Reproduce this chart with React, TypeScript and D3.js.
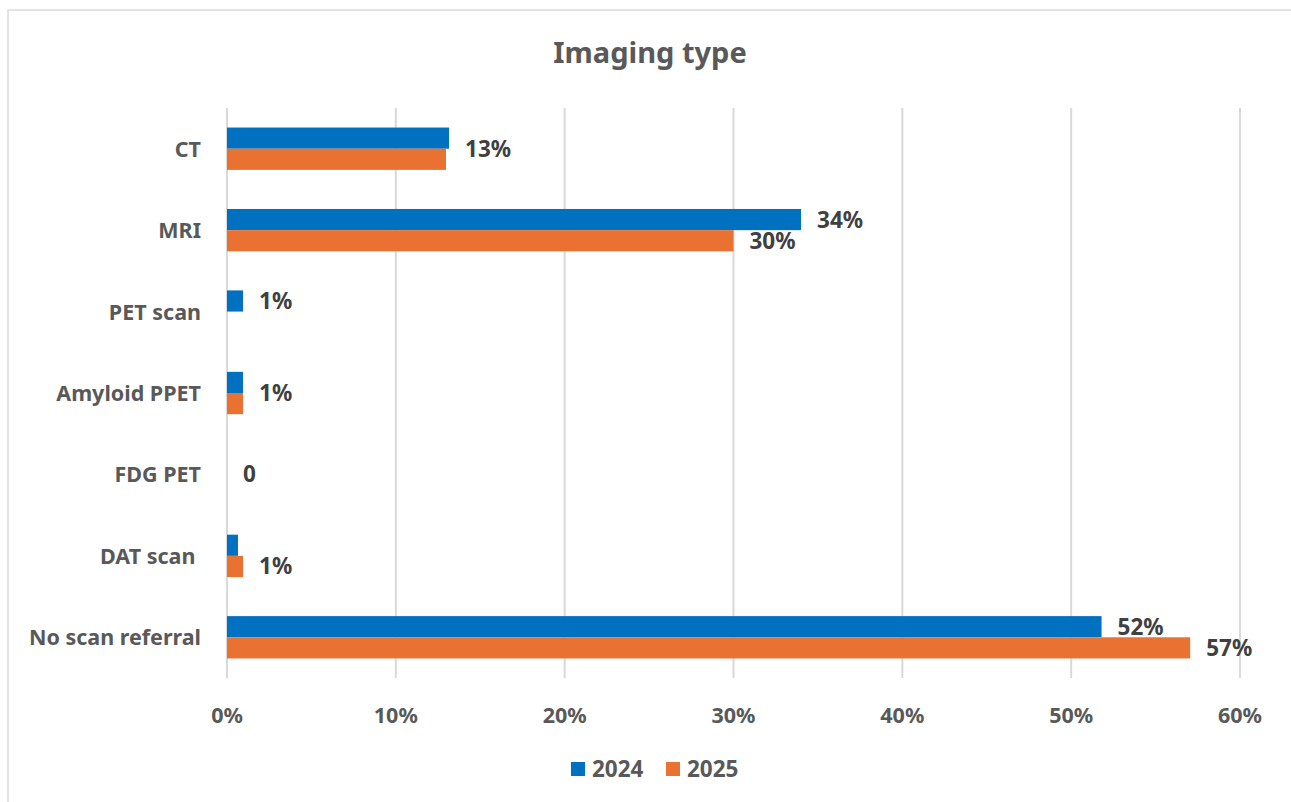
import React from "react";
import * as d3 from "d3";

const categories = ["CT", "MRI", "PET scan", "Amyloid PPET", "FDG PET", "DAT scan ", "No scan referral"];
const seriesNames = ["2024", "2025"];
const values2024 = [13.15, 34.0, 0.95, 0.95, 0, 0.65, 51.8];
const values2025 = [12.97, 30.0, 0, 0.95, 0, 0.95, 57.05];
const xTicks = [0, 10, 20, 30, 40, 50, 60];
// data labels: category, text, which bar it sits next to
const dataLabels = [
  { cat: "CT", text: "13%", anchor: "mid" },
  { cat: "MRI", text: "34%", anchor: "2024" },
  { cat: "MRI", text: "30%", anchor: "2025" },
  { cat: "PET scan", text: "1%", anchor: "2024" },
  { cat: "Amyloid PPET", text: "1%", anchor: "mid" },
  { cat: "FDG PET", text: "0", anchor: "mid" },
  { cat: "DAT scan ", text: "1%", anchor: "2025" },
  { cat: "No scan referral", text: "52%", anchor: "2024" },
  { cat: "No scan referral", text: "57%", anchor: "2025" },
];
const colors = ["#0070C0", "#E97132"];

const W = 1291;
const H = 802;
const FONT = "'Noto Sans', 'Open Sans', sans-serif";

export default function App() {
  const x = d3.scaleLinear().domain([0, 60]).range([227, 1240]);
  const y = d3.scaleBand<string>().domain(categories).range([108, 678]).paddingInner(0.48).paddingOuter(0.24);
  const inner = d3.scaleBand<string>().domain(seriesNames).range([0, y.bandwidth()]);
  const seriesVals = [values2024, values2025];

  return (
    <svg width={W} height={H} style={{ position: "absolute", left: 0, top: 0, background: "#fff" }} fontFamily={FONT}>
      <rect x={8} y={10} width={W + 10} height={H + 10} fill="#fff" stroke="#E3E3E3" strokeWidth={2} />
      <text x={650} y={63} textAnchor="middle" fontSize={29} fontWeight={700} fill="#595959">Imaging type</text>
      {xTicks.map((t) => (
        <g key={t}>
          <line x1={x(t)} x2={x(t)} y1={108} y2={678} stroke="#D9D9D9" strokeWidth={2} />
          <text x={x(t)} y={723} textAnchor="middle" fontSize={21.5} fontWeight={700} fill="#595959">{t}%</text>
        </g>
      ))}
      {categories.map((c) => (
        <text key={c} x={201} y={(y(c) ?? 0) + y.bandwidth() / 2 + 8} textAnchor="end" fontSize={21.5} fontWeight={700} fill="#595959" style={{ whiteSpace: "pre" }}>{c}</text>
      ))}
      {seriesNames.map((s, si) =>
        categories.map((c, ci) => {
          const v = seriesVals[si][ci];
          if (!v) return null;
          return (
            <rect key={s + c} x={x(0)} y={(y(c) ?? 0) + (inner(s) ?? 0)} width={x(v) - x(0)} height={inner.bandwidth()} fill={colors[si]} />
          );
        })
      )}
      {dataLabels.map((l, i) => {
        const ci = categories.indexOf(l.cat);
        const by = y(l.cat) ?? 0;
        let cy: number;
        let xv: number;
        if (l.anchor === "mid") {
          cy = by + y.bandwidth() / 2;
          xv = Math.max(values2024[ci], values2025[ci]);
        } else {
          const si = seriesNames.indexOf(l.anchor);
          cy = by + (inner(l.anchor) ?? 0) + inner.bandwidth() / 2;
          xv = seriesVals[si][ci];
        }
        return (
          <text key={i} x={x(xv) + 16} y={cy + 8} fontSize={22.5} fontWeight={700} fill="#404040">{l.text}</text>
        );
      })}
      {seriesNames.map((s, si) => (
        <g key={s} transform={`translate(${571 + si * 95},0)`}>
          <rect x={0} y={762} width={14} height={14} fill={colors[si]} />
          <text x={21} y={777} fontSize={22.5} fontWeight={700} fill="#595959">{s}</text>
        </g>
      ))}
    </svg>
  );
}
